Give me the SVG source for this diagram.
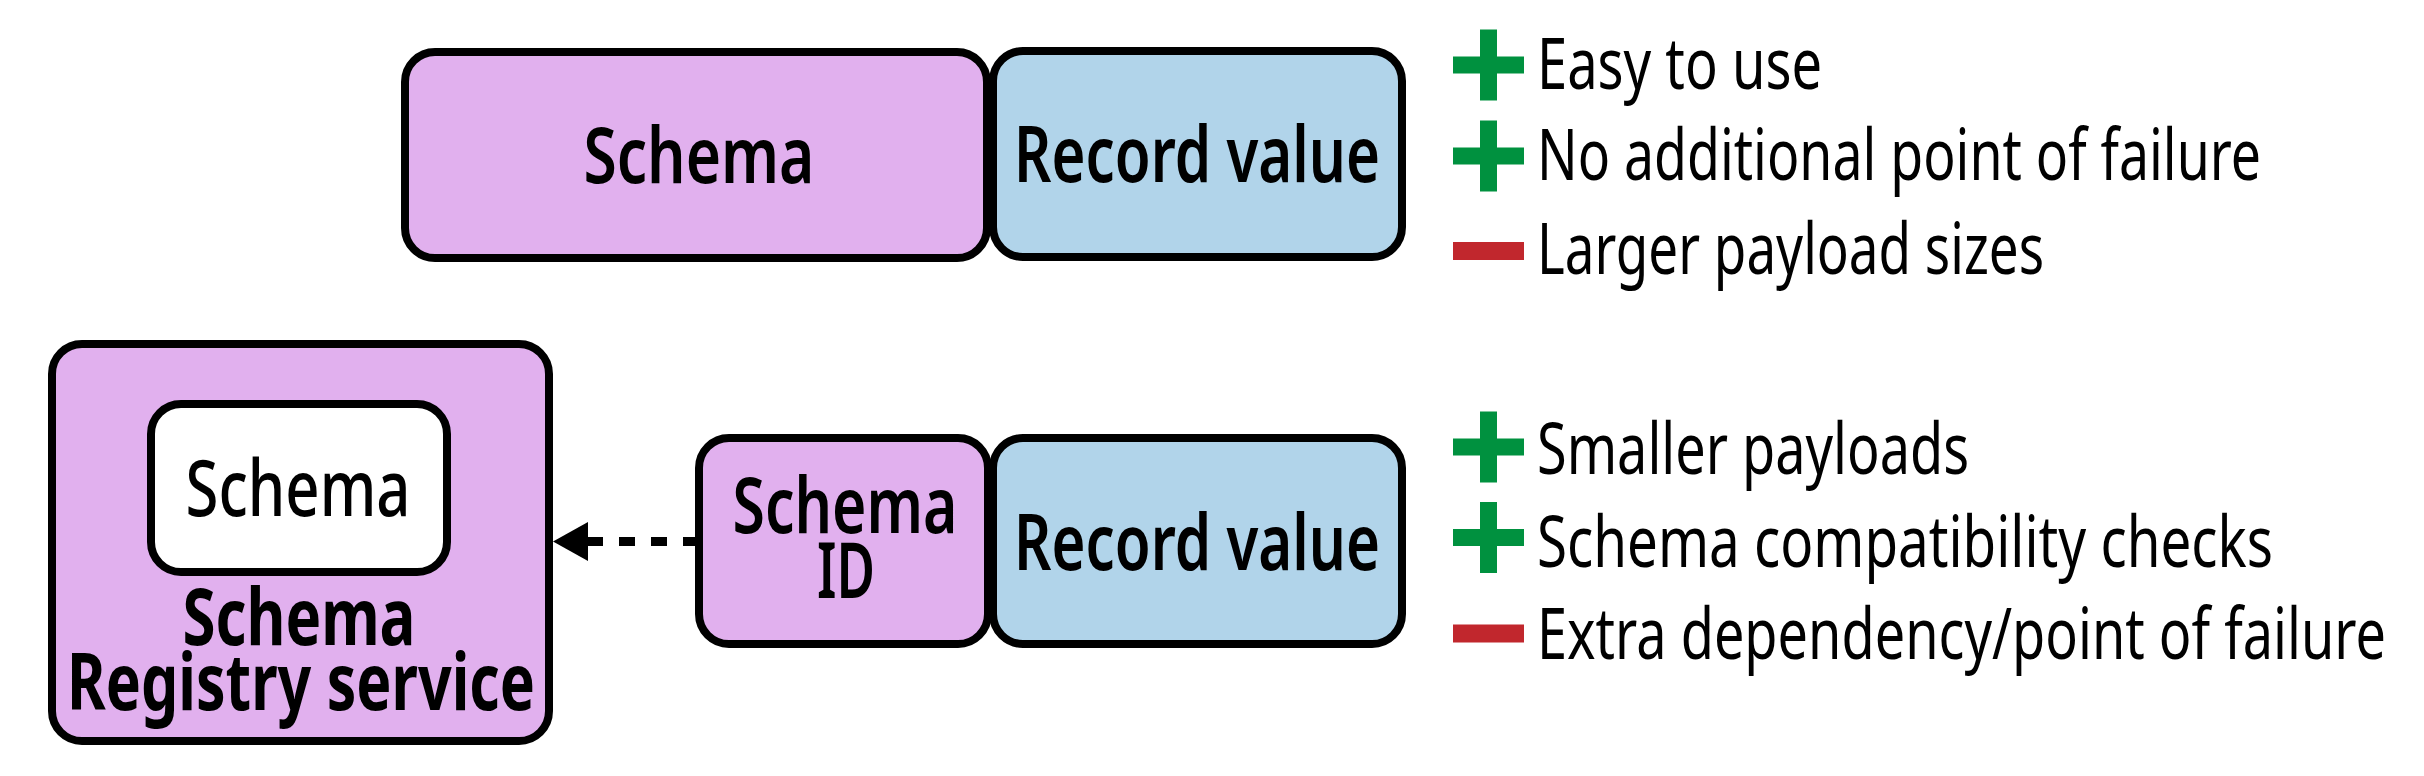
<svg xmlns="http://www.w3.org/2000/svg" width="2424" height="776" viewBox="0 0 2424 776">
  <defs>
    <style>
      .box { stroke: #000; stroke-width: 8; }
      .pink { fill: #E1B0EE; }
      .blue { fill: #B1D4EA; }
      .white { fill: #FFFFFF; }
      .lbl { font-family: "Noto Sans", "Open Sans", "Liberation Sans", sans-serif; font-size: 78px; font-weight: 600; fill: #000; text-anchor: middle; }
      .reg { font-weight: 500; }
      .bold { font-weight: 700; }
      .item { font-family: "Noto Sans", "Open Sans", "Liberation Sans", sans-serif; font-size: 72px; font-weight: 400; fill: #000; }
      .plus { fill: #00913F; }
      .minus { fill: #C1272D; }
      .dash { stroke: #000; stroke-width: 9; stroke-dasharray: 16 16; fill: none; }
    </style>
  </defs>
  <rect width="2424" height="776" fill="#FFFFFF"/>

  <!-- Top row -->
  <g id="top-schema">
    <rect class="box pink" x="405" y="52" width="582" height="206" rx="30"/>
    <text class="lbl" x="699" y="183" textLength="231" lengthAdjust="spacingAndGlyphs">Schema</text>
  </g>
  <g id="top-record-value">
    <rect class="box blue" x="993" y="51" width="409" height="206" rx="30"/>
    <text class="lbl" x="1197" y="182" textLength="366" lengthAdjust="spacingAndGlyphs">Record value</text>
  </g>

  <!-- Bottom row -->
  <g id="schema-registry">
    <rect class="box pink" x="52" y="344" width="497" height="397" rx="30"/>
    <text class="lbl bold" x="299" y="645" textLength="233" lengthAdjust="spacingAndGlyphs">Schema</text>
    <text class="lbl bold" x="301" y="710" textLength="468" lengthAdjust="spacingAndGlyphs">Registry service</text>
  </g>
  <g id="registry-schema">
    <rect class="box white" x="151" y="404" width="296" height="168" rx="30"/>
    <text class="lbl reg" x="298" y="516" font-size="80" textLength="225" lengthAdjust="spacingAndGlyphs">Schema</text>
  </g>
  <g id="schema-id">
    <rect class="box pink" x="699" y="438" width="289" height="206" rx="30"/>
    <text class="lbl" x="845" y="533" textLength="225" lengthAdjust="spacingAndGlyphs">Schema</text>
    <text class="lbl" x="846" y="598" textLength="58" lengthAdjust="spacingAndGlyphs">ID</text>
  </g>
  <g id="bottom-record-value">
    <rect class="box blue" x="993" y="438" width="409" height="206" rx="30"/>
    <text class="lbl" x="1197" y="570" textLength="366" lengthAdjust="spacingAndGlyphs">Record value</text>
  </g>

  <!-- Connectors -->
  <g id="connectors">
    <path class="dash" d="M587 541.5 H699"/>
    <polygon points="553,541.5 588,522 588,561" fill="#000"/>
  </g>

  <!-- Pros / cons top -->
  <g id="top-list">
    <rect class="plus" x="1453" y="56.5" width="71" height="17"/>
    <rect class="plus" x="1480" y="29.5" width="17" height="71"/>
    <text class="item" x="1537" y="89" textLength="285" lengthAdjust="spacingAndGlyphs">Easy to use</text>
    <rect class="plus" x="1453" y="147.5" width="71" height="17"/>
    <rect class="plus" x="1480" y="120.5" width="17" height="71"/>
    <text class="item" x="1537" y="180" textLength="724" lengthAdjust="spacingAndGlyphs">No additional point of failure</text>
    <rect class="minus" x="1453" y="242" width="71" height="18"/>
    <text class="item" x="1537" y="274" textLength="507" lengthAdjust="spacingAndGlyphs">Larger payload sizes</text>
  </g>

  <!-- Pros / cons bottom -->
  <g id="bottom-list">
    <rect class="plus" x="1453" y="438.5" width="71" height="17"/>
    <rect class="plus" x="1480" y="411.5" width="17" height="71"/>
    <text class="item" x="1537" y="474" textLength="432" lengthAdjust="spacingAndGlyphs">Smaller payloads</text>
    <rect class="plus" x="1453" y="529" width="71" height="17"/>
    <rect class="plus" x="1480" y="502" width="17" height="71"/>
    <text class="item" x="1537" y="567" textLength="736" lengthAdjust="spacingAndGlyphs">Schema compatibility checks</text>
    <rect class="minus" x="1453" y="624.5" width="71" height="18"/>
    <text class="item" x="1537" y="659" textLength="849" lengthAdjust="spacingAndGlyphs">Extra dependency/point of failure</text>
  </g>
</svg>
